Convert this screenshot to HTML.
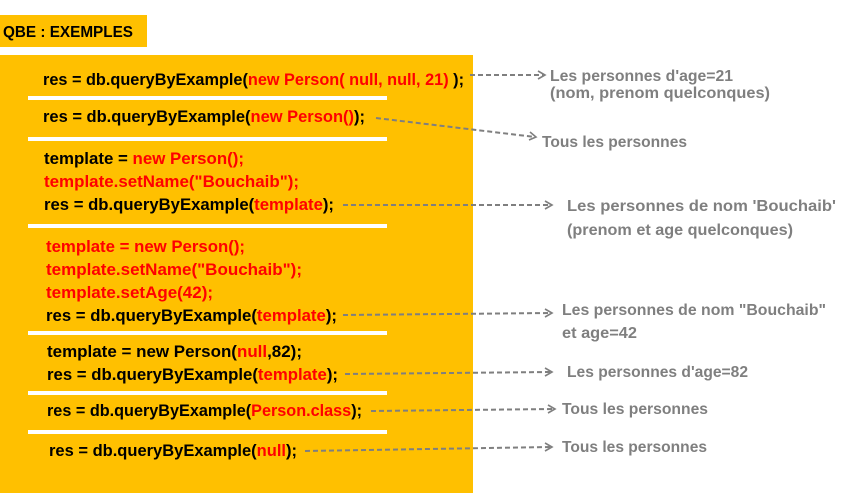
<!DOCTYPE html>
<html><head><meta charset="utf-8"><style>
html,body{margin:0;padding:0;background:#fff;}
svg{display:block;}
text{font-family:"Liberation Sans",sans-serif;font-weight:bold;}
.c{font-size:16.5px;fill:#000;}
.r{fill:#ff0000;}
.l{font-size:16px;fill:#7f7f7f;}
.d{stroke:#7f7f7f;stroke-width:2;stroke-dasharray:5,3;fill:none;}
.a{stroke:#7f7f7f;stroke-width:1.6;fill:none;}
</style></head><body>
<svg width="844" height="493" viewBox="0 0 844 493">
<rect x="0" y="15" width="147" height="32" fill="#ffc000"/>
<text x="3" y="37" style="font-size:16px" textLength="130" lengthAdjust="spacingAndGlyphs">QBE : EXEMPLES</text>
<rect x="0" y="55" width="473" height="438" fill="#ffc000"/>
<g fill="#fff">
<rect x="28" y="96" width="359" height="4"/>
<rect x="28" y="137" width="359" height="4"/>
<rect x="28" y="224" width="359" height="4"/>
<rect x="28" y="331" width="359" height="4"/>
<rect x="28" y="391" width="359" height="4"/>
<rect x="28" y="430" width="359" height="4"/>
</g>
<g class="c">
<text x="43" y="85" textLength="421" lengthAdjust="spacingAndGlyphs">res = db.queryByExample(<tspan class="r">new Person( null, null, 21)</tspan> );</text>
<text x="43" y="122" textLength="322" lengthAdjust="spacingAndGlyphs">res = db.queryByExample(<tspan class="r">new Person()</tspan>);</text>
<text x="44" y="164" textLength="200" lengthAdjust="spacingAndGlyphs">template = <tspan class="r">new Person();</tspan></text>
<text x="44" y="187" class="r" textLength="255" lengthAdjust="spacingAndGlyphs">template.setName("Bouchaib");</text>
<text x="44" y="210" textLength="290" lengthAdjust="spacingAndGlyphs">res = db.queryByExample(<tspan class="r">template</tspan>);</text>
<text x="46" y="252" class="r" textLength="199" lengthAdjust="spacingAndGlyphs">template = new Person();</text>
<text x="46" y="275" class="r" textLength="256" lengthAdjust="spacingAndGlyphs">template.setName("Bouchaib");</text>
<text x="46" y="298" class="r" textLength="167" lengthAdjust="spacingAndGlyphs">template.setAge(42);</text>
<text x="46" y="321" textLength="291" lengthAdjust="spacingAndGlyphs">res = db.queryByExample(<tspan class="r">template</tspan>);</text>
<text x="47" y="357" textLength="255" lengthAdjust="spacingAndGlyphs">template = new Person(<tspan class="r">null</tspan>,82);</text>
<text x="47" y="380" textLength="291" lengthAdjust="spacingAndGlyphs">res = db.queryByExample(<tspan class="r">template</tspan>);</text>
<text x="47" y="416" textLength="315" lengthAdjust="spacingAndGlyphs">res = db.queryByExample(<tspan class="r">Person.class</tspan>);</text>
<text x="49" y="456" textLength="248" lengthAdjust="spacingAndGlyphs">res = db.queryByExample(<tspan class="r">null</tspan>);</text>
</g>
<g>
<line class="d" x1="470" y1="75" x2="544" y2="75"/><polyline class="a" points="538,71 545,75 538,79"/>
<line class="d" x1="376" y1="118" x2="535" y2="137"/><polyline class="a" points="530,132 536,137 529,140"/>
<line class="d" x1="343" y1="205" x2="551" y2="205"/><polyline class="a" points="545,201 552,205 545,209"/>
<line class="d" x1="343" y1="315" x2="551" y2="313"/><polyline class="a" points="545,309 552,313 545,317"/>
<line class="d" x1="345" y1="374" x2="551" y2="372"/><polyline class="a" points="545,368 552,372 545,376"/>
<line class="d" x1="371" y1="411" x2="554" y2="409"/><polyline class="a" points="548,405 555,409 548,413"/>
<line class="d" x1="305" y1="451" x2="551" y2="447"/><polyline class="a" points="545,443 552,447 545,451"/>
</g>
<g class="l">
<text x="550" y="81" textLength="183" lengthAdjust="spacingAndGlyphs">Les personnes d'age=21</text>
<text x="550" y="98" textLength="220" lengthAdjust="spacingAndGlyphs">(nom, prenom quelconques)</text>
<text x="542" y="147" textLength="145" lengthAdjust="spacingAndGlyphs">Tous les personnes</text>
<text x="567" y="211" textLength="269" lengthAdjust="spacingAndGlyphs">Les personnes de nom 'Bouchaib'</text>
<text x="567" y="235" textLength="226" lengthAdjust="spacingAndGlyphs">(prenom et age quelconques)</text>
<text x="562" y="315" textLength="264" lengthAdjust="spacingAndGlyphs">Les personnes de nom "Bouchaib"</text>
<text x="562" y="338" textLength="75" lengthAdjust="spacingAndGlyphs">et age=42</text>
<text x="567" y="377" textLength="181" lengthAdjust="spacingAndGlyphs">Les personnes d'age=82</text>
<text x="562" y="414" textLength="146" lengthAdjust="spacingAndGlyphs">Tous les personnes</text>
<text x="562" y="452" textLength="145" lengthAdjust="spacingAndGlyphs">Tous les personnes</text>
</g>
</svg>
</body></html>
